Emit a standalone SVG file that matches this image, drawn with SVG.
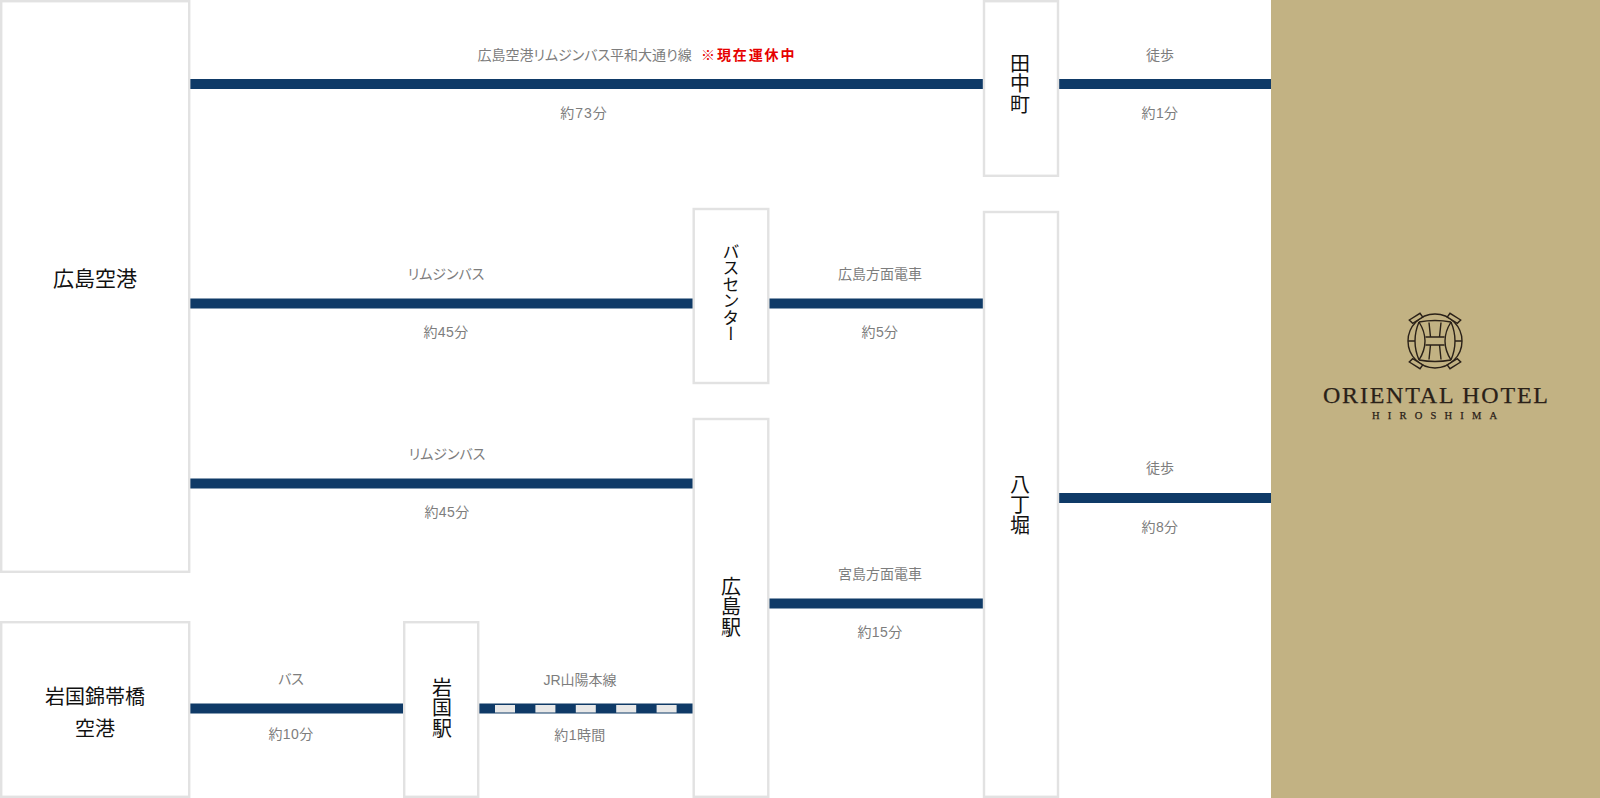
<svg xmlns="http://www.w3.org/2000/svg" width="1600" height="798" viewBox="0 0 1600 798">
<style>
.box{fill:#fff;stroke:#e2e2e2;stroke-width:2.4}
.ln{fill:#0f3a67}
.dash{fill:#e8e8e8}
.lb{font:14px "Liberation Sans","Noto Sans CJK JP",sans-serif;fill:#7d7d7d;text-anchor:middle}
.k{font-feature-settings:"palt"}
.w{letter-spacing:.4px}
.nd{font:400 20px "Noto Sans CJK JP",sans-serif;fill:#111;text-anchor:middle}
.v{writing-mode:vertical-rl;text-anchor:start;letter-spacing:.6px}
.logo{fill:none;stroke:#2a2118;stroke-width:1.400}
.lt{font-family:"Liberation Serif","Times New Roman",serif;fill:#2a2118;stroke:#2a2118;stroke-width:.25}
</style>
<g id="connectors">
<rect class="ln" x="190" y="79" width="793" height="10"/>
<rect class="ln" x="1058" y="79" width="214" height="10"/>
<rect class="ln" x="190" y="298.500" width="503" height="10"/>
<rect class="ln" x="769" y="298.500" width="214" height="10"/>
<rect class="ln" x="190" y="478.500" width="503" height="10"/>
<rect class="ln" x="1058" y="493" width="214" height="10"/>
<rect class="ln" x="769" y="598.500" width="214" height="10"/>
<rect class="ln" x="190" y="703.500" width="213" height="10"/>
<rect class="ln" x="479" y="703.500" width="214" height="10"/>
<rect class="dash" x="495" y="705" width="20" height="7.500"/>
<rect class="dash" x="535.400" y="705" width="20" height="7.500"/>
<rect class="dash" x="575.800" y="705" width="20" height="7.500"/>
<rect class="dash" x="616.200" y="705" width="20" height="7.500"/>
<rect class="dash" x="656.600" y="705" width="20" height="7.500"/>
</g>
<g id="labels">
<text class="lb k" x="477.500" y="60" style="text-anchor:start">広島空港リムジンバス平和大通り線</text>
<text x="701" y="60" font-family="'Noto Sans CJK JP',sans-serif" font-size="14" font-weight="700" fill="#e60000" letter-spacing="1.900">※現在運休中</text>
<text class="lb" x="584" y="118" letter-spacing="1">約73分</text>
<text class="lb" x="1160" y="60">徒歩</text>
<text class="lb w" x="1160" y="118">約1分</text>
<text class="lb k" x="446" y="279">リムジンバス</text>
<text class="lb w" x="446" y="337">約45分</text>
<text class="lb" x="880" y="279">広島方面電車</text>
<text class="lb w" x="880" y="337">約5分</text>
<text class="lb k" x="447" y="459">リムジンバス</text>
<text class="lb w" x="447" y="517">約45分</text>
<text class="lb" x="1160" y="473">徒歩</text>
<text class="lb w" x="1160" y="532">約8分</text>
<text class="lb" x="880" y="579">宮島方面電車</text>
<text class="lb w" x="880" y="637">約15分</text>
<text class="lb k" x="291" y="684">バス</text>
<text class="lb w" x="291" y="739">約10分</text>
<text class="lb" x="580" y="685">JR山陽本線</text>
<text class="lb w" x="580" y="740">約1時間</text>
</g>
<g id="node-hiroshima-airport">
<rect class="box" x="1.200" y="1.200" width="188" height="570.600"/>
<text class="nd" x="95" y="286" style="font-size:21px">広島空港</text>
</g>
<g id="node-iwakuni-airport">
<rect class="box" x="1.200" y="622.200" width="188" height="174.600"/>
<text class="nd" x="95" y="704">岩国錦帯橋</text>
<text class="nd" x="95" y="736">空港</text>
</g>
<g id="node-iwakuni-station">
<rect class="box" x="404.200" y="622.200" width="74" height="174.600"/>
<text class="nd v" x="442" y="677">岩国駅</text>
</g>
<g id="node-bus-center">
<rect class="box" x="693.700" y="209" width="74.600" height="174"/>
<text class="nd v" x="731" y="243" style="font-size:17px;letter-spacing:-.5px">バスセンター</text>
</g>
<g id="node-hiroshima-station">
<rect class="box" x="693.700" y="419" width="74.600" height="377.800"/>
<text class="nd v" x="731" y="576">広島駅</text>
</g>
<g id="node-tanakacho">
<rect class="box" x="984" y="1.200" width="74" height="174.600"/>
<text class="nd v" x="1020" y="53">田中町</text>
</g>
<g id="node-hatchobori">
<rect class="box" x="984" y="212" width="74" height="584.800"/>
<text class="nd v" x="1020" y="474">八丁堀</text>
</g>
<g id="node-hotel">
<rect x="1271" y="0" width="329" height="798" fill="#c2b283"/>
<g class="logo" transform="translate(1435 341)">
<circle r="27"/>
<path d="M-16-19Q-24 0-16 19M-16-19Q-4 0-16 19M16-19Q24 0 16 19M16-19Q4 0 16 19"/>
<path d="M-16-19Q0-22 16-19M-16 19Q0 22 16 19"/>
<path d="M-27 0H-20M20 0H27M-9.500-4H9.500M-9.500 4H9.500"/>
<path d="M-6-18.500L-4.500-4M6-18.500L4.500-4M-6 18.500L-4.500 4M6 18.500L4.500 4"/>
<path d="M-25.700-21L-15-27.700L-12.300-24L-22.300-17.700ZM25.700-21L15-27.700L12.300-24L22.300-17.700ZM-25.700 21L-15 27.700L-12.300 24L-22.300 17.700ZM25.700 21L15 27.700L12.300 24L22.300 17.700Z" fill="#c2b283"/>
</g>
<text class="lt" x="1323" y="403" font-size="24" textLength="225">ORIENTAL HOTEL</text>
<text class="lt" x="1372" y="419" font-size="10.500" textLength="125">HIROSHIMA</text>
</g>
</svg>
